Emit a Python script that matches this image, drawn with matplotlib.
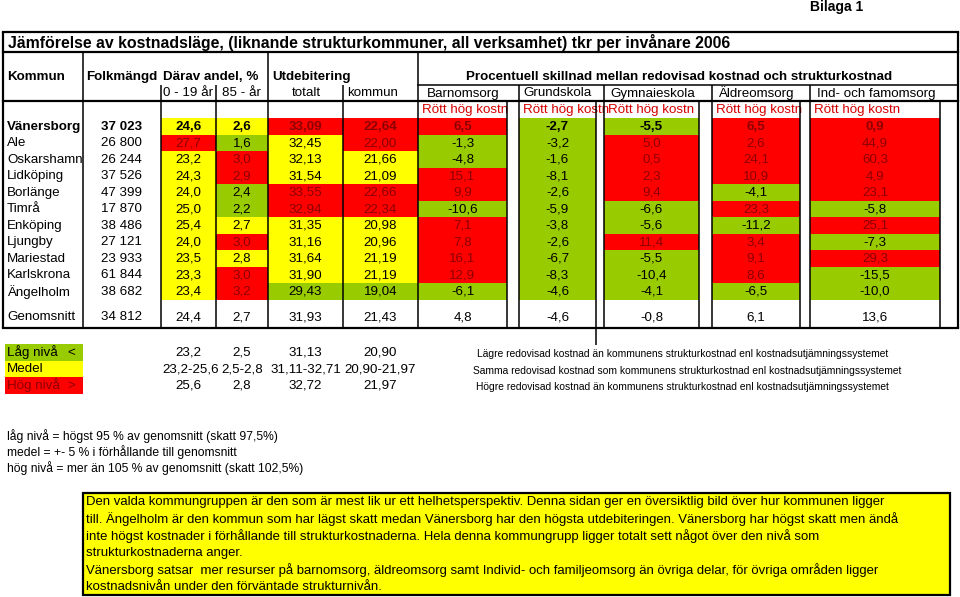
import matplotlib
matplotlib.use("Agg")
import matplotlib.pyplot as plt
from matplotlib.patches import Rectangle
from matplotlib import font_manager

plt.rcParams['font.family'] = ['Liberation Sans', 'DejaVu Sans']

# ---------------- data ----------------
kommuner = ['Vänersborg', 'Ale', 'Oskarshamn', 'Lidköping', 'Borlänge', 'Timrå',
            'Enköping', 'Ljungby', 'Mariestad', 'Karlskrona', 'Ängelholm']
folkmangd = [37023, 26800, 26244, 37526, 47399, 17870, 38486, 27121, 23933, 61844, 38682]
andel_0_19 = [24.6, 27.7, 23.2, 24.3, 24.0, 25.0, 25.4, 24.0, 23.5, 23.3, 23.4]
andel_85 = [2.6, 1.6, 3.0, 2.9, 2.4, 2.2, 2.7, 3.0, 2.8, 3.0, 3.2]
utdeb_totalt = [33.09, 32.45, 32.13, 31.54, 33.55, 32.94, 31.35, 31.16, 31.64, 31.90, 29.43]
utdeb_kommun = [22.64, 22.00, 21.66, 21.09, 22.66, 22.34, 20.98, 20.96, 21.19, 21.19, 19.04]
barnomsorg = [6.5, -1.3, -4.8, 15.1, 9.9, -10.6, 7.1, 7.8, 16.1, 12.9, -6.1]
grundskola = [-2.7, -3.2, -1.6, -8.1, -2.6, -5.9, -3.8, -2.6, -6.7, -8.3, -4.6]
gymnasieskola = [-5.5, 5.0, 0.5, 2.3, 9.4, -6.6, -5.6, 11.4, -5.5, -10.4, -4.1]
aldreomsorg = [6.5, 2.6, 24.1, 10.9, -4.1, 23.3, -11.2, 3.4, 9.1, 8.6, -6.5]
ifo = [0.9, 44.9, 60.3, 4.9, 23.1, -5.8, 25.1, -7.3, 29.3, -15.5, -10.0]

genomsnitt_folk = 34812
genomsnitt_levels = [24.4, 2.7, 31.93, 21.43]
genomsnitt_pct = [4.8, -4.6, -0.8, 6.1, 13.6]

lag_niva = [23.2, 2.5, 31.13, 20.90]
medel_text = ['23,2-25,6', '2,5-2,8', '31,11-32,71', '20,90-21,97']
hog_niva = [25.6, 2.8, 32.72, 21.97]
level_decimals = [1, 1, 2, 2]

pct_headers = ['Barnomsorg', 'Grundskola', 'Gymnaieskola', 'Äldreomsorg', 'Ind- och famomsorg']

title = ('Jämförelse av kostnadsläge, (liknande strukturkommuner, all verksamhet) '
         'tkr per invånare 2006')
legend_desc = [
    'Lägre redovisad kostnad än kommunens strukturkostnad enl kostnadsutjämningssystemet',
    'Samma redovisad kostnad som kommunens strukturkostnad enl kostnadsutjämningssystemet',
    'Högre redovisad kostnad än kommunens strukturkostnad enl kostnadsutjämningssystemet',
]
notes = [
    'låg nivå = högst 95 % av genomsnitt (skatt 97,5%)',
    'medel = +- 5 % i förhållande till genomsnitt',
    'hög nivå = mer än 105 % av genomsnitt (skatt 102,5%)',
]
box_lines = [
    'Den valda kommungruppen är den som är mest lik ur ett helhetsperspektiv. Denna sidan ger en översiktlig bild över hur kommunen ligger',
    'till. Ängelholm är den kommun som har lägst skatt medan Vänersborg har den högsta utdebiteringen. Vänersborg har högst skatt men ändå',
    'inte högst kostnader i förhållande till strukturkostnaderna. Hela denna kommungrupp ligger totalt sett något över den nivå som',
    'strukturkostnaderna anger.',
    'Vänersborg satsar  mer resurser på barnomsorg, äldreomsorg samt Individ- och familjeomsorg än övriga delar, för övriga områden ligger',
    'kostnadsnivån under den förväntade strukturnivån.',
]

# ---------------- style ----------------
RED = '#FF0000'
YEL = '#FFFF00'
GRN = '#99CC00'
DARKRED = '#8C0000'
HDRRED = '#D40000'
FS = 9.65
FSH = 9.6

def fmt(v, d=1):
    return f"{v:.{d}f}".replace('.', ',')

def fmt_int(v):
    return f"{v:,}".replace(',', ' ')

def level_color(v, lo, hi):
    if v < lo:
        return GRN
    if v > hi:
        return RED
    return YEL

def pct_color(v):
    return RED if v > 0 else GRN

fig = plt.figure(figsize=(9.6, 5.97), dpi=100)
ax = fig.add_axes([0, 0, 1, 1])
ax.set_xlim(0, 960)
ax.set_ylim(597, 0)
ax.axis('off')

# layout
row_top = 118.0
row_h = 16.5
level_cols = [(161, 216), (216, 268), (268, 343), (343, 418)]
pct_cols = [(418, 507), (519, 596), (604, 699), (712, 800), (810, 940)]
level_data = [andel_0_19, andel_85, utdeb_totalt, utdeb_kommun]
pct_data = [barnomsorg, grundskola, gymnasieskola, aldreomsorg, ifo]

n = len(kommuner)
for i in range(n):
    y0 = row_top + i * row_h
    yc = y0 + row_h / 2 + 0.5
    bold = 'bold' if i == 0 else 'normal'
    ax.text(7, yc, kommuner[i], fontsize=FS, weight=bold, va='center', ha='left')
    ax.text(142, yc, fmt_int(folkmangd[i]), fontsize=FS, weight=bold, va='center', ha='right')
    for j, (x0, x1) in enumerate(level_cols):
        v = level_data[j][i]
        c = level_color(v, lag_niva[j], hog_niva[j])
        ax.add_patch(Rectangle((x0, y0), x1 - x0, row_h, facecolor=c, edgecolor='none', zorder=1))
        ax.text((x0 + x1) / 2, yc, fmt(v, level_decimals[j]), fontsize=FS, weight=bold,
                va='center', ha='center', color=DARKRED if c == RED else 'black', zorder=3)
    for j, (x0, x1) in enumerate(pct_cols):
        v = pct_data[j][i]
        c = pct_color(v)
        ax.add_patch(Rectangle((x0, y0), x1 - x0, row_h, facecolor=c, edgecolor='none', zorder=1))
        ax.text((x0 + x1) / 2, yc, fmt(v), fontsize=FS, weight=bold,
                va='center', ha='center', color=DARKRED if c == RED else 'black', zorder=3)

# genomsnitt row
yg = 317.5
ax.text(7, yg, 'Genomsnitt', fontsize=FS, va='center')
ax.text(142, yg, fmt_int(genomsnitt_folk), fontsize=FS, va='center', ha='right')
for j, (x0, x1) in enumerate(level_cols):
    ax.text((x0 + x1) / 2, yg, fmt(genomsnitt_levels[j], level_decimals[j]), fontsize=FS,
            va='center', ha='center')
for j, (x0, x1) in enumerate(pct_cols):
    ax.text((x0 + x1) / 2, yg, fmt(genomsnitt_pct[j]), fontsize=FS, va='center', ha='center')

# headers
ax.text(8, 42.5, title, fontsize=11.4, weight='bold', va='center')
ax.text(837, 6.5, 'Bilaga 1', fontsize=10, weight='bold', va='center', ha='center')
ax.text(7, 77, 'Kommun', fontsize=FSH, weight='bold', va='center')
ax.text(86, 77, 'Folkmängd', fontsize=FSH, weight='bold', va='center')
ax.text(163, 77, 'Därav andel, %', fontsize=FSH, weight='bold', va='center')
ax.text(272, 77, 'Utdebitering', fontsize=FSH, weight='bold', va='center')
ax.text(679, 76.5, 'Procentuell skillnad mellan redovisad kostnad och strukturkostnad',
        fontsize=FSH, weight='bold', va='center', ha='center')
ax.text(163, 93.5, '0 - 19 år', fontsize=FS, va='center')
ax.text(242, 93.5, '85 - år', fontsize=FS, va='center', ha='center')
ax.text(306, 93.5, 'totalt', fontsize=FS, va='center', ha='center')
ax.text(347, 93.5, 'kommun', fontsize=FS, va='center')
hdr_centers = [463, 558, 653, 756, 876]
for h, xc in zip(pct_headers, hdr_centers):
    ax.text(xc, 93.5, h, fontsize=FS, va='center', ha='center')
rott_x = [422, 523, 608, 716, 814]
rott_clip = [507, 604, 699, 800, 940]
for xs, xe in zip(rott_x, rott_clip):
    t = ax.text(xs, 110, 'Rött hög kostn', fontsize=FS, color=HDRRED, va='center')
    t.set_clip_path(Rectangle((xs - 2, 101), xe - xs + 1, 17, transform=ax.transData))

# grid lines
LW_OUT = 1.6
LW_IN = 1.1
hlines = [(32, 3, 958, LW_OUT), (52, 3, 958, LW_OUT), (85, 418, 958, LW_IN),
          (101, 3, 958, LW_OUT), (328, 3, 958, LW_OUT)]
for y, x0, x1, lw in hlines:
    ax.plot([x0, x1], [y, y], color='black', lw=lw, zorder=4, solid_capstyle='projecting')
vlines = [(3, 32, 328, LW_OUT), (958, 32, 328, LW_OUT), (83, 52, 328, LW_IN),
          (161, 85, 328, LW_IN), (216, 85, 328, LW_IN), (268, 52, 328, LW_IN),
          (343, 85, 328, LW_IN), (418, 52, 328, LW_IN), (507, 101, 328, LW_IN),
          (519, 85, 328, LW_IN), (596, 101, 345, LW_IN), (604, 85, 328, LW_IN),
          (699, 101, 328, LW_IN), (712, 85, 328, LW_IN), (800, 101, 328, LW_IN),
          (810, 85, 328, LW_IN), (940, 101, 328, LW_IN)]
for x, y0, y1, lw in vlines:
    ax.plot([x, x], [y0, y1], color='black', lw=lw, zorder=4, solid_capstyle='butt')

# legend
leg_y = [352.5, 369, 385.5]
leg_cols = [GRN, YEL, RED]
leg_names = ['Låg nivå', 'Medel', 'Hög nivå']
leg_sym = ['<', '', '>']
for k in range(3):
    ax.add_patch(Rectangle((5, 344 + k * 16.5), 78, 16.5, facecolor=leg_cols[k], edgecolor='none'))
    tc = DARKRED if leg_cols[k] == RED else 'black'
    ax.text(7, leg_y[k], leg_names[k], fontsize=FS, va='center', color=tc)
    if leg_sym[k]:
        ax.text(71, leg_y[k], leg_sym[k], fontsize=FS, va='center', ha='center', color=tc)
for j, (x0, x1) in enumerate(level_cols):
    xc = (x0 + x1) / 2
    ax.text(xc, leg_y[0], fmt(lag_niva[j], level_decimals[j]), fontsize=FS, va='center', ha='center')
    ax.text(xc, leg_y[2], fmt(hog_niva[j], level_decimals[j]), fontsize=FS, va='center', ha='center')
    if j == 0:
        t = ax.text(x0 + 1, leg_y[1], medel_text[j], fontsize=FS, va='center', ha='left')
        t.set_clip_path(Rectangle((x0, 360), x1 - x0 - 0.5, 17, transform=ax.transData))
    else:
        ax.text(xc, leg_y[1], medel_text[j], fontsize=FS, va='center', ha='center')
desc_x = [477, 473, 476]
for k in range(3):
    ax.text(desc_x[k], leg_y[k] + 1.5, legend_desc[k], fontsize=7.35, va='center')

# notes
for k, s in enumerate(notes):
    ax.text(7, 436 + k * 16, s, fontsize=8.7, va='center')

# text box
ax.add_patch(Rectangle((83, 493), 867, 102, facecolor=YEL, edgecolor='black', lw=1.6, zorder=1))
names = {f.name for f in font_manager.fontManager.ttflist}
box_family = 'Liberation Sans Narrow' if 'Liberation Sans Narrow' in names else 'Liberation Sans'
fig.canvas.draw()
r = fig.canvas.get_renderer()
probe = ax.text(0, 0, box_lines[0], fontsize=10, family=box_family)
w = probe.get_window_extent(r).width
probe.remove()
box_fs = 10 * 803 / w
for k, s in enumerate(box_lines):
    ax.text(86, 502.5 + k * 16.9, s, fontsize=box_fs, family=box_family, va='center', zorder=3)

fig.savefig('out.png', dpi=100)
